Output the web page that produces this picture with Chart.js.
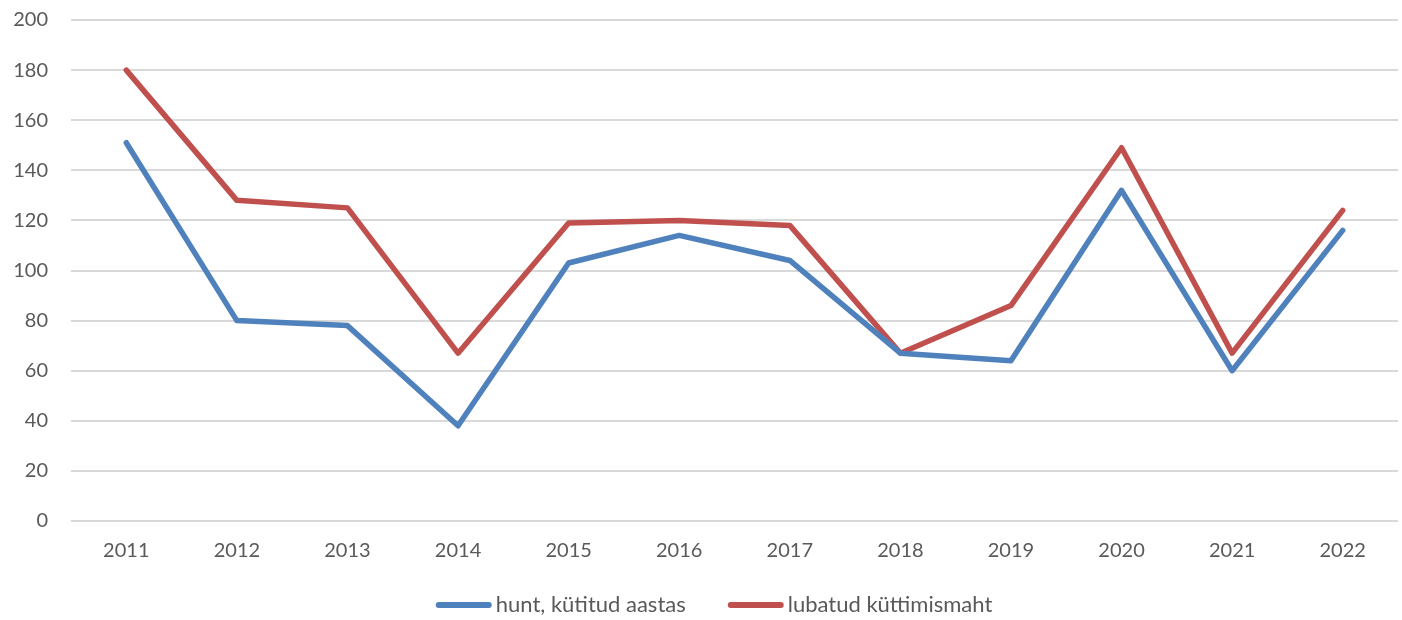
<!DOCTYPE html>
<html lang="et">
<head>
    <meta charset="UTF-8">
    <title>Hunt</title>
    <script src="https://cdn.jsdelivr.net/npm/chart.js@4"></script>
    <style>
        body { margin: 0; background: #ffffff; }
        #chart { display: block; }
    </style>
</head>
<body>
    <canvas id="chart" width="1402" height="620"></canvas>
<script>
const years = ['2011', '2012', '2013', '2014', '2015', '2016', '2017', '2018', '2019', '2020', '2021', '2022'];
const hunted = [151, 80, 78, 38, 103, 114, 104, 67, 64, 132, 60, 116];
const allowed = [180, 128, 125, 67, 119, 120, 118, 67, 86, 149, 67, 124];
const seriesNames = ['hunt, kütitud aastas', 'lubatud küttimismaht'];

const blue = '#4f81bd';
const red = '#c0504d';
const textColor = '#595959';
const fontFamily = 'Lato, "Open Sans", sans-serif';

Chart.defaults.font.family = fontFamily;
Chart.defaults.color = textColor;

// legend drawn by hand: line sample, small gap, then text (like the office chart)
const bottomLegend = {
    id: 'bottomLegend',
    afterDraw(chart) {
        const c = chart.ctx;
        const lineLen = 56, gap = 4, itemGap = 42, y = 605;
        c.save();
        c.font = '22px ' + fontFamily;
        c.textBaseline = 'middle';
        const items = chart.data.datasets.map(ds => ({
            label: ds.label,
            color: ds.borderColor,
            w: lineLen + gap + c.measureText(ds.label).width
        }));
        const total = items.reduce((s, it) => s + it.w, 0) + itemGap * (items.length - 1);
        let x = 714 - total / 2;
        items.forEach(it => {
            c.strokeStyle = it.color;
            c.lineWidth = 6;
            c.lineCap = 'round';
            c.beginPath();
            c.moveTo(x + 3, y);
            c.lineTo(x + lineLen - 3, y);
            c.stroke();
            c.fillStyle = textColor;
            c.fillText(it.label, x + lineLen + gap, y);
            x += it.w + itemGap;
        });
        c.restore();
    }
};

const ctx = document.getElementById('chart').getContext('2d');
new Chart(ctx, {
    type: 'line',
    data: {
        labels: years,
        datasets: [{
            label: seriesNames[0],
            data: hunted,
            borderColor: blue,
            backgroundColor: blue,
            borderWidth: 5.5,
            borderJoinStyle: 'round',
            borderCapStyle: 'round',
            pointRadius: 0,
            tension: 0
        }, {
            label: seriesNames[1],
            data: allowed,
            borderColor: red,
            backgroundColor: red,
            borderWidth: 5.5,
            borderJoinStyle: 'round',
            borderCapStyle: 'round',
            pointRadius: 0,
            tension: 0
        }]
    },
    options: {
        responsive: false,
        animation: false,
        layout: {
            padding: { top: 20, right: 4, left: 0, bottom: 39 }
        },
        scales: {
            x: {
                offset: true,
                grid: { display: false, drawTicks: false },
                border: { display: false },
                ticks: { padding: 18, font: { size: 20 }, maxRotation: 0 }
            },
            y: {
                min: 0,
                max: 200,
                ticks: { stepSize: 20, padding: 3, font: { size: 20 } },
                grid: {
                    color: '#d9d9d9',
                    lineWidth: 2,
                    drawTicks: true,
                    tickLength: 20,
                    tickColor: 'rgba(0,0,0,0)'
                },
                border: { display: false },
                afterFit: (scale) => { scale.width = 71; }
            }
        },
        plugins: {
            legend: { display: false },
            tooltip: { enabled: false }
        }
    },
    plugins: [bottomLegend]
});
</script>
</body>
</html>
